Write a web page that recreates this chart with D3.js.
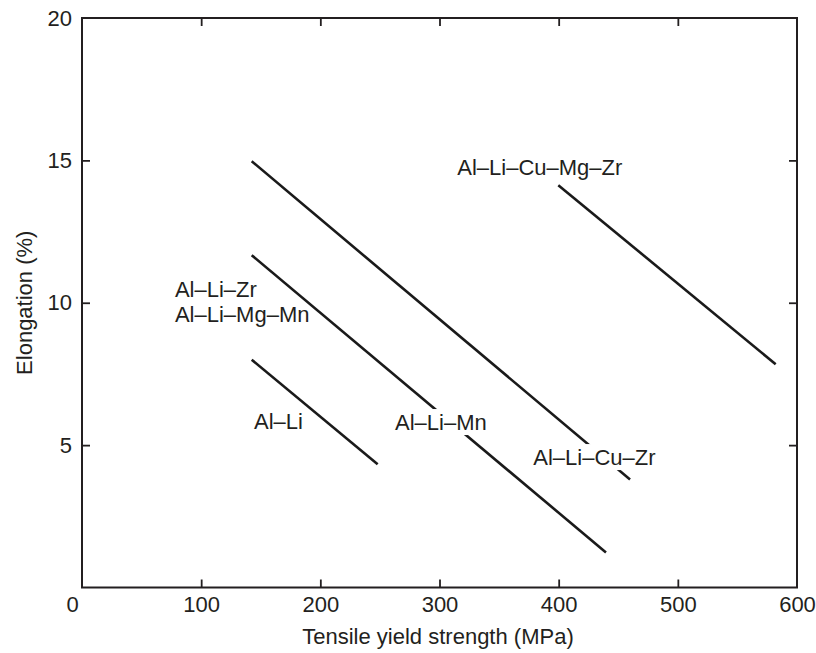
<!DOCTYPE html>
<html>
<head>
<meta charset="utf-8">
<script src="https://cdn.jsdelivr.net/npm/d3@7"></script>
<style>
  body { margin: 0; background: #fff; }
  text { font-family: "Liberation Sans", Arial, sans-serif; fill: #231f20; }
</style>
</head>
<body>
<svg id="chart" width="816" height="653"></svg>
<script>
// ---- data ----
const seriesNames = ["Al–Li", "Al–Li–Zr / Al–Li–Mg–Mn / Al–Li–Mn", "Al–Li–Cu–Zr", "Al–Li–Cu–Mg–Zr"];
const xStart = [142.4, 142.4, 142.4, 399.7];
const xEnd   = [248.1, 439.7, 459.9, 582.1];
const yStart = [8.0, 11.67, 14.97, 14.13];
const yEnd   = [4.33, 1.23, 3.79, 7.84];

const labelTexts = ["Al–Li–Cu–Mg–Zr", "Al–Li–Zr", "Al–Li–Mg–Mn", "Al–Li", "Al–Li–Mn", "Al–Li–Cu–Zr"];
const labelX = [314.9, 78.0, 78.0, 144.3, 262.7, 378.7];
const labelY = [14.48, 10.21, 9.31, 5.55, 5.53, 4.30];

const xTicks = [0, 100, 200, 300, 400, 500, 600];
const yTicks = [5, 10, 15, 20];
const xTitle = "Tensile yield strength (MPa)";
const yTitle = "Elongation (%)";

// ---- layout ----
const svg = d3.select("#chart");
const L = 82, R = 797, T = 18, B = 587.5;
const x = d3.scaleLinear().domain([0, 600]).range([L, R]);
const y = d3.scaleLinear().domain([0, 20]).range([B, T]);
const fs = 22;
const axisColor = "#231f20";
const knockout = new Set(["Al–Li–Mn", "Al–Li–Cu–Zr"]);

// lines
const lines = seriesNames.map((n, i) => [[xStart[i], yStart[i]], [xEnd[i], yEnd[i]]]);
svg.append("g").selectAll("line").data(lines).join("line")
  .attr("x1", d => x(d[0][0])).attr("y1", d => y(d[0][1]))
  .attr("x2", d => x(d[1][0])).attr("y2", d => y(d[1][1]))
  .attr("stroke", "#1a1a1a").attr("stroke-width", 2.6).attr("stroke-linecap", "butt");

// labels (white knockout where the label sits on a line)
const lg = svg.append("g");
labelTexts.forEach((t, i) => {
  const g = lg.append("g");
  const rect = g.append("rect").attr("fill", "#fff");
  const tx = g.append("text").attr("x", x(labelX[i])).attr("y", y(labelY[i]))
    .attr("font-size", fs).text(t);
  if (knockout.has(t)) {
    const bb = tx.node().getBBox();
    rect.attr("x", bb.x - 2).attr("y", bb.y - 1).attr("width", bb.width + 4).attr("height", bb.height + 1);
  } else rect.remove();
});

// axes (box with inner ticks on all sides)
const tickLen = 8;
const ax = svg.append("g");
const bottom = ax.append("g").attr("transform", `translate(0,${B})`)
  .call(d3.axisBottom(x).tickValues(xTicks).tickSizeInner(-tickLen).tickSizeOuter(0).tickPadding(8.5).tickFormat(d3.format("d")));
ax.append("g").attr("transform", `translate(0,${T})`)
  .call(d3.axisTop(x).tickValues(xTicks.slice(1, -1)).tickSizeInner(-tickLen).tickSizeOuter(0).tickFormat(""));
ax.append("g").attr("transform", `translate(${L},0)`)
  .call(d3.axisLeft(y).tickValues(yTicks).tickSizeInner(-tickLen).tickSizeOuter(0).tickPadding(10).tickFormat(d3.format("d")));
ax.append("g").attr("transform", `translate(${R},0)`)
  .call(d3.axisRight(y).tickValues(yTicks.slice(0, -1)).tickSizeInner(-tickLen).tickSizeOuter(0).tickFormat(""));
ax.selectAll(".domain").remove();
ax.selectAll(".tick line").attr("stroke", axisColor).attr("stroke-width", 1.8);
ax.selectAll(".tick text").attr("font-size", fs).attr("font-family", "Liberation Sans, Arial, sans-serif").attr("fill", "#231f20");
ax.selectAll(".tick").filter(d => d === 0 || d === 600 || d === 20).select("line").remove();
bottom.selectAll(".tick").filter(d => d === 0).select("text").attr("dx", -10);

svg.append("rect").attr("x", L).attr("y", T).attr("width", R - L).attr("height", B - T)
  .attr("fill", "none").attr("stroke", axisColor).attr("stroke-width", 2);

// titles
svg.append("text").attr("x", 438).attr("y", 644).attr("text-anchor", "middle")
  .attr("font-size", fs).text(xTitle);
svg.append("text").attr("transform", `translate(32,${y(10)}) rotate(-90)`).attr("text-anchor", "middle")
  .attr("font-size", fs).text(yTitle);
</script>
</body>
</html>
